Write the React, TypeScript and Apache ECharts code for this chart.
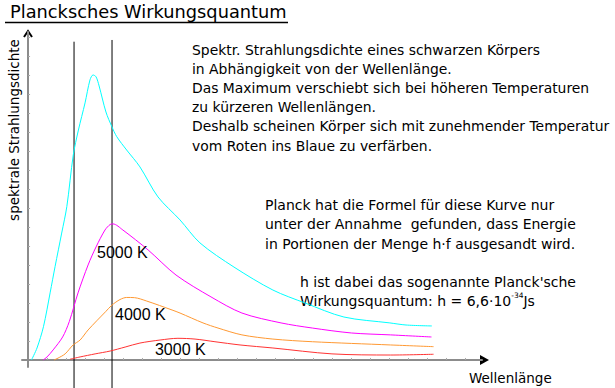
import React, { useEffect, useRef } from "react";
import * as echarts from "echarts";

// ---------- texts ----------
const titleText = "Plancksches Wirkungsquantum";
const xAxisName = "Wellenlänge";
const yAxisName = "spektrale Strahlungsdichte";
const infoBlock1 = [
  "Spektr. Strahlungsdichte eines schwarzen Körpers",
  "in Abhängigkeit von der Wellenlänge.",
  "Das Maximum verschiebt sich bei höheren Temperaturen",
  "zu kürzeren Wellenlängen.",
  "Deshalb scheinen Körper sich mit zunehmender Temperatur",
  "vom Roten ins Blaue zu verfärben.",
];
const infoBlock2 = [
  "Planck hat die Formel für diese Kurve nur",
  "unter der Annahme  gefunden, dass Energie",
  "in Portionen der Menge h·f ausgesandt wird.",
];
const infoBlock3a = "h ist dabei das sogenannte Planck'sche";
const infoBlock3b = "Wirkungsquantum: h = 6,6·10{sup|-34}Js";

// ---------- data (arbitrary units) ----------
const seriesNames = ["6000 K", "5000 K", "4000 K", "3000 K"];
const seriesLabels = ["", "5000 K", "4000 K", "3000 K"];

const wave6000 = [0.18, 0.47, 0.81, 1.16, 1.42, 1.77, 2.04, 2.38, 2.65, 3.0, 3.26, 3.42, 3.58, 3.74, 4.1, 4.41, 4.67, 5.19, 5.89, 6.84, 8.0, 9.05, 10.84, 12.89, 14.58, 16.63, 19.05, 19.9, 21.26];
const value6000 = [0, 0.63, 1.75, 3.53, 4.91, 6.68, 8.07, 10.79, 12.1, 13.53, 14.74, 15.0, 14.9, 14.42, 13.05, 12.28, 11.75, 11.05, 10.16, 8.58, 7.37, 6.16, 4.89, 3.68, 3.0, 2.26, 1.95, 1.84, 1.79];

const wave5000 = [0.79, 1.0, 1.32, 1.82, 2.17, 2.63, 3.16, 3.58, 4.05, 4.32, 4.47, 4.99, 6.32, 7.79, 9.63, 11.26, 13.32, 14.97, 17.03, 19.08, 21.24];
const value5000 = [0, 0.16, 0.53, 1.21, 2.02, 3.53, 5.0, 5.95, 6.84, 7.13, 7.16, 6.84, 5.79, 4.47, 3.32, 2.47, 1.95, 1.68, 1.42, 1.32, 1.21];

const wave4000 = [1.37, 1.58, 1.95, 2.37, 2.74, 3.16, 4.08, 4.42, 4.84, 5.19, 5.6, 6.25, 7.58, 8.0, 9.21, 10.0, 11.26, 12.89, 14.97, 19.08, 21.35];
const value4000 = [0, 0.1, 0.32, 0.79, 1.05, 1.58, 2.54, 2.89, 3.18, 3.29, 3.28, 3.1, 2.63, 2.47, 1.95, 1.68, 1.32, 1.1, 0.96, 0.79, 0.7];

const wave3000 = [2.21, 2.74, 3.53, 4.32, 5.11, 5.89, 6.95, 7.89, 8.79, 9.84, 11.16, 12.89, 16.0, 19.08, 21.35];
const value3000 = [0.04, 0.16, 0.32, 0.47, 0.68, 0.89, 1.05, 1.14, 1.1, 0.96, 0.79, 0.63, 0.32, 0.26, 0.3];

const markerWaves = [2.42, 4.42];
const markerTops = [16.75, 16.84];
const markerBottom = -1.7;

const xTicks = [1, 2, 3, 4, 5, 6, 7, 8, 9, 10, 11, 12, 13, 14, 15, 16, 17, 18, 19, 20, 21, 22, 23];
const yTicks = [1, 2, 3, 4, 5, 6, 7, 8, 9, 10, 11, 12, 13, 14, 15, 16, 17];

// label anchors (data coords)
const labelAnchors: (number[] | null)[] = [null, [3.63, 5.68], [4.58, 2.37], [6.68, 0.53]];

const curveColors = ["#00ffff", "#ff00ff", "#ff9933", "#ff3333"];
const handFont = "'Comic Sans MS', 'DejaVu Sans', sans-serif";

function zip(xs: number[], ys: number[]) {
  return xs.map((x, i) => [x, ys[i]]);
}

export default function App() {
  const ref = useRef<HTMLDivElement>(null);
  useEffect(() => {
    if (!ref.current) return;
    const chart = echarts.init(ref.current, null, { renderer: "svg" });
    const waves = [wave6000, wave5000, wave4000, wave3000];
    const values = [value6000, value5000, value4000, value3000];

    const curveSeries = seriesNames.map((name, i) => {
      const anchor = labelAnchors[i];
      return {
        name,
        type: "line",
        data: zip(waves[i], values[i]),
        showSymbol: false,
        symbol: "none",
        smooth: 0.3,
        lineStyle: { color: curveColors[i], width: 1 },
        z: 3,
        markPoint: anchor
          ? {
              symbol: "circle",
              symbolSize: 0,
              data: [{ coord: anchor, value: seriesLabels[i] }],
              label: {
                show: true,
                position: "right",
                distance: 0,
                formatter: seriesLabels[i],
                color: "#000",
                fontFamily: "'Liberation Sans', Arial, sans-serif",
                fontSize: 16,
              },
            }
          : undefined,
      };
    });

    const markerSeries = markerWaves.map((w, i) => ({
      name: "marker" + i,
      type: "line",
      data: [
        [w, markerBottom],
        [w, markerTops[i]],
      ],
      clip: false,
      showSymbol: false,
      symbol: "none",
      lineStyle: { color: "#000", width: 1 },
      z: 2,
    }));

    const lines1 = infoBlock1.join("\n");
    const lines2 = infoBlock2.join("\n");

    chart.setOption({
      animation: false,
      backgroundColor: "#fff",
      grid: { left: 22, right: 133, top: 32, bottom: 21, containLabel: false },
      xAxis: {
        type: "value",
        min: -0.32,
        max: 23.9,
        axisLine: { show: true, onZero: true, lineStyle: { color: "#8c8c8c", width: 2 } },
        axisTick: { show: true, customValues: xTicks, length: 2, inside: true, lineStyle: { color: "#aaa", width: 1 } },
        axisLabel: { show: false },
        splitLine: { show: false },
      },
      yAxis: {
        type: "value",
        min: -0.37,
        max: 17.26,
        axisLine: { show: true, onZero: true, lineStyle: { color: "#8c8c8c", width: 2 } },
        axisTick: { show: true, customValues: yTicks, length: 2, inside: true, lineStyle: { color: "#aaa", width: 1 } },
        axisLabel: { show: false },
        splitLine: { show: false },
      },
      series: [...markerSeries, ...curveSeries],
      graphic: [
        {
          type: "text",
          left: 10,
          top: 2,
          style: { text: titleText, fontFamily: handFont, fontSize: 17.8, fill: "#000" },
        },
        {
          type: "line",
          shape: { x1: 5, y1: 22.5, x2: 288, y2: 22.5 },
          style: { stroke: "#000", lineWidth: 1.5 },
        },
        {
          type: "text",
          x: 14,
          y: 130,
          rotation: Math.PI / 2,
          style: {
            text: yAxisName,
            fontFamily: handFont,
            fontSize: 13.5,
            fill: "#000",
            align: "center",
            verticalAlign: "middle",
          },
        },
        {
          type: "text",
          x: 469,
          y: 378,
          style: { text: xAxisName, fontFamily: handFont, fontSize: 13.5, fill: "#000", verticalAlign: "middle" },
        },
        {
          type: "polygon",
          shape: { points: [[480, 355], [489, 360], [480, 365]] },
          style: { fill: "#000" },
        },
        {
          type: "polyline",
          shape: { points: [[24, 37], [28, 31], [32, 37]] },
          style: { stroke: "#000", lineWidth: 2, fill: null },
        },
        {
          type: "text",
          x: 192,
          y: 40.5,
          style: { text: lines1, fontFamily: handFont, fontSize: 13.9, lineHeight: 19.1, fill: "#000" },
        },
        {
          type: "text",
          x: 265,
          y: 195.5,
          style: { text: lines2, fontFamily: handFont, fontSize: 14, lineHeight: 19.2, fill: "#000" },
        },
        {
          type: "text",
          x: 300,
          y: 272.5,
          style: { text: infoBlock3a, fontFamily: handFont, fontSize: 14, lineHeight: 19, fill: "#000" },
        },
        {
          type: "text",
          x: 300,
          y: 291,
          style: {
            text: infoBlock3b,
            fontFamily: handFont,
            fontSize: 14,
            lineHeight: 19,
            fill: "#000",
            rich: {
              sup: { fontSize: 7.5, fontFamily: handFont, fill: "#000", verticalAlign: "top", lineHeight: 19 },
            },
          },
        },
      ],
    });
    return () => chart.dispose();
  }, []);
  return (
    <div
      ref={ref}
      style={{ position: "fixed", left: 0, top: 0, width: 615, height: 388, background: "#fff" }}
    />
  );
}
